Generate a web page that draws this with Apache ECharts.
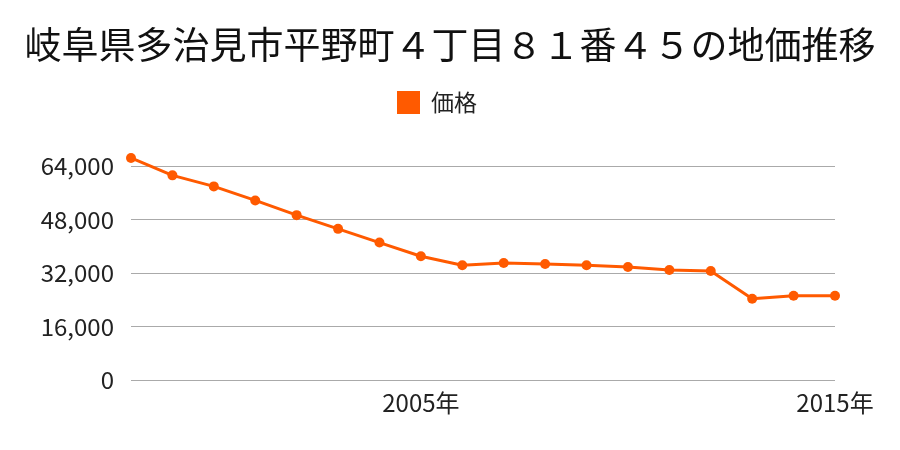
<!DOCTYPE html>
<html><head><meta charset="utf-8">
<script src="https://cdn.jsdelivr.net/npm/echarts@6/dist/echarts.min.js"></script>
<style>html,body{margin:0;padding:0;background:#fff}#c{width:900px;height:450px}</style>
</head><body><div id="c"></div>
<script>
const years = ['1998','1999','2000','2001','2002','2003','2004','2005','2006','2007','2008','2009','2010','2011','2012','2013','2014','2015'];
const prices = [66400,61200,57900,53700,49300,45200,41100,37000,34300,35000,34700,34300,33800,32900,32600,24300,25200,25200];
const shownYears = ['2005','2015'];
const yTicks = [0,16000,32000,48000,64000];
const FONT = '"Noto Sans CJK JP", sans-serif';
const chart = echarts.init(document.getElementById('c'));
chart.setOption({
  animation:false,
  title:{text:'岐阜県多治見市平野町４丁目８１番４５の地価推移',left:'center',top:21,
    textStyle:{fontFamily:FONT,fontSize:37,fontWeight:'normal',color:'#111'}},
  legend:{data:['価格'],top:86,left:392,itemWidth:23,itemHeight:23,icon:'rect',itemGap:10,
    textStyle:{fontFamily:FONT,fontSize:23,color:'#222',padding:[0,0,0,6]}},
  grid:{left:131,right:65,top:166,bottom:70,containLabel:false},
  xAxis:{type:'category',data:years,boundaryGap:false,
    axisLine:{show:false},axisTick:{show:false},
    axisLabel:{fontFamily:FONT,fontSize:24,color:'#222',margin:11,
      interval:(i,v)=>shownYears.includes(v),formatter:v=>v+'年'}},
  yAxis:{type:'value',min:yTicks[0],max:yTicks[yTicks.length-1],interval:16000,
    axisLine:{show:false},axisTick:{show:false},
    splitLine:{lineStyle:{color:'#aaa',width:1}},
    axisLabel:{fontFamily:FONT,fontSize:24,color:'#222',margin:17,
      formatter:v=>v.toLocaleString('en-US')}},
  series:[{name:'価格',type:'line',data:prices,color:'#ff5a00',clip:false,
    symbol:'circle',symbolSize:10,lineStyle:{width:3,color:'#ff5a00'},
    itemStyle:{color:'#ff5a00'}}]
});
</script></body></html>
